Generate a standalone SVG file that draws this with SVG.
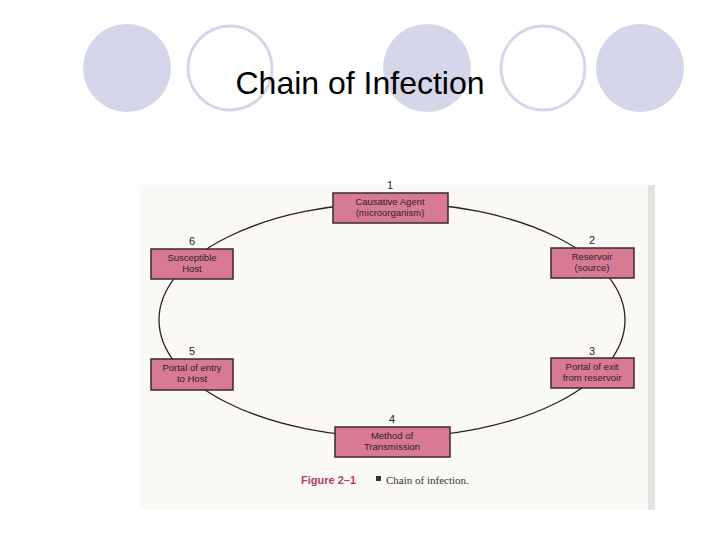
<svg xmlns="http://www.w3.org/2000/svg" width="720" height="540" viewBox="0 0 720 540">
<style>
.ring{fill:none;stroke:#d6d6ea;stroke-width:3}
.dot{fill:#d6d6ea}
.box{fill:#d97a93;stroke:#3a2a2e;stroke-width:1.5}
.t{font-family:"Liberation Sans",Arial,sans-serif;font-size:9.5px;fill:#2a2226;text-anchor:middle}
.n{font-family:"Liberation Sans",Arial,sans-serif;font-size:11px;fill:#2a2226;text-anchor:middle}
</style>
<rect width="720" height="540" fill="#fff"/>
<circle class="dot" cx="127" cy="68" r="44"/>
<circle class="ring" cx="230" cy="68" r="42"/>
<circle class="dot" cx="427" cy="68" r="44"/>
<circle class="ring" cx="543" cy="68" r="42"/>
<circle class="dot" cx="640" cy="68" r="44"/>
<text x="360" y="94" font-family="Liberation Sans,Arial,sans-serif" font-size="32" text-anchor="middle" fill="#000">Chain of Infection</text>
<rect x="140" y="185" width="515" height="325" fill="#fbf9f6"/>
<rect x="648" y="185" width="7" height="325" fill="#e4e2e0"/>
<g id="connectors"><ellipse cx="392" cy="320" rx="233" ry="117" fill="none" stroke="#2a2226" stroke-width="1.3"/></g>
<g id="n1"><rect class="box" x="333" y="193" width="115" height="30"/><text class="n" x="390" y="189">1</text><text class="t" x="390" y="205">Causative Agent</text><text class="t" x="390" y="216">(microorganism)</text></g>
<g id="n2"><rect class="box" x="551" y="248" width="83" height="30"/><text class="n" x="592" y="244">2</text><text class="t" x="592" y="260">Reservoir</text><text class="t" x="592" y="271">(source)</text></g>
<g id="n3"><rect class="box" x="551" y="358" width="83" height="30"/><text class="n" x="592" y="355">3</text><text class="t" x="592" y="370">Portal of exit</text><text class="t" x="592" y="381">from reservoir</text></g>
<g id="n4"><rect class="box" x="335" y="427" width="115" height="30"/><text class="n" x="392" y="423">4</text><text class="t" x="392" y="439">Method of</text><text class="t" x="392" y="450">Transmission</text></g>
<g id="n5"><rect class="box" x="151" y="359" width="82" height="31"/><text class="n" x="192" y="355">5</text><text class="t" x="192" y="371">Portal of entry</text><text class="t" x="192" y="382">to Host</text></g>
<g id="n6"><rect class="box" x="151" y="249" width="82" height="30"/><text class="n" x="192" y="245">6</text><text class="t" x="192" y="261">Susceptible</text><text class="t" x="192" y="272">Host</text></g>
<text x="301" y="484" font-family="Liberation Sans,Arial,sans-serif" font-size="11" font-weight="bold" fill="#b0405a">Figure 2–1</text>
<rect x="376" y="476" width="5" height="5" fill="#333"/>
<text x="386" y="484" font-family="Liberation Serif,serif" font-size="11" fill="#333">Chain of infection.</text>
</svg>
